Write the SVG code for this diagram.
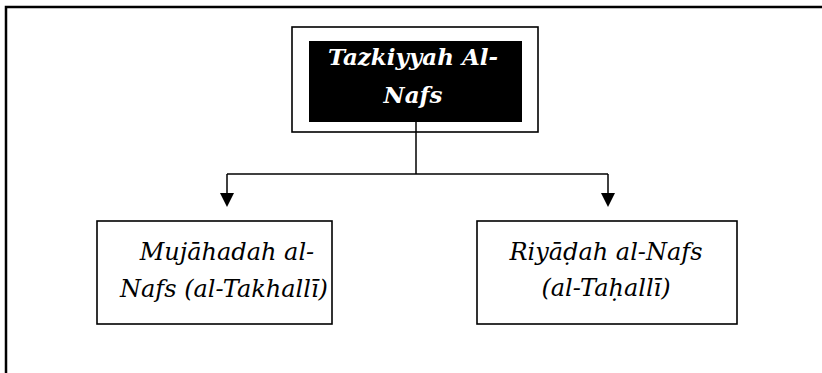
<svg xmlns="http://www.w3.org/2000/svg" width="822" height="373" viewBox="0 0 822 373">
<style>
.frame{fill:none;stroke:#000;stroke-width:2.5}
.box{fill:#fff;stroke:#000;stroke-width:1.6}
.ln{fill:none;stroke:#000;stroke-width:1.5}
.t{font-family:'DejaVu Serif',serif;font-style:italic;font-size:24px;text-anchor:middle;fill:#000}
.tb{font-family:'DejaVu Serif',serif;font-style:italic;font-weight:bold;font-size:23px;text-anchor:middle;fill:#fff}
</style>
<path class="frame" d="M6,373 V7 H822"/>
<g id="connectors">
<path class="ln" d="M416,122 V174"/>
<path class="ln" d="M227,174 H608"/>
<path class="ln" d="M227,174 V193"/>
<path class="ln" d="M608,174 V193"/>
<path d="M220,193 L234,193 L227,207 Z" fill="#000"/>
<path d="M601,193 L615,193 L608,207 Z" fill="#000"/>
</g>
<g id="tazkiyyah">
<rect class="box" x="292" y="27" width="246" height="105"/>
<rect x="309" y="41" width="213" height="81" fill="#000"/>
<line class="ln" x1="416" y1="122" x2="416" y2="132"/>
<text class="tb" x="413" y="65">Tazkiyyah Al-</text>
<text class="tb" x="413" y="103">Nafs</text>
</g>
<g id="mujahadah">
<rect class="box" x="97" y="221" width="235" height="103"/>
<text class="t" x="227" y="260">Mujāhadah al-</text>
<text class="t" x="224" y="297">Nafs (al-Takhallī)</text>
</g>
<g id="riyadah">
<rect class="box" x="477" y="221" width="260" height="103"/>
<text class="t" x="606" y="260">Riyāḍah al-Nafs</text>
<text class="t" x="606" y="296">(al-Taḥallī)</text>
</g>
</svg>
